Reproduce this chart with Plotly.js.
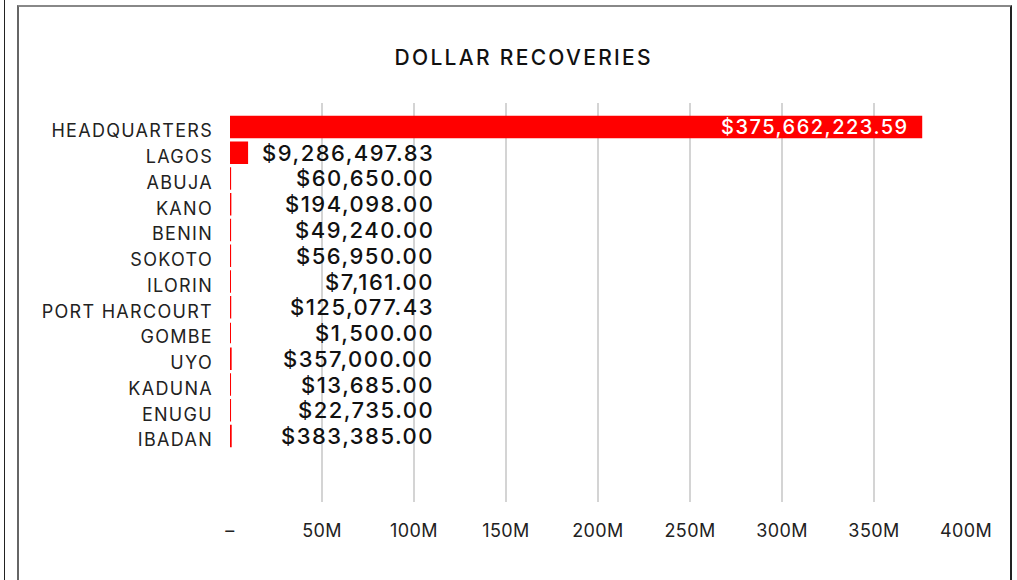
<!DOCTYPE html>
<html>
<head>
<meta charset="utf-8">
<script src="https://cdn.plot.ly/plotly-3.0.1.min.js"></script>
<style>
html,body{margin:0;padding:0;background:#fff;}
#wrap{position:relative;width:1017px;height:580px;overflow:hidden;}
#chart{position:absolute;left:0;top:0;width:1017px;height:580px;}
#frameL{position:absolute;left:4px;top:0;width:1px;height:580px;background:#222;}
#frame{position:absolute;left:17px;top:5px;width:995px;height:600px;border-top:2px solid #888;border-left:2px solid #666;border-right:2px solid #222;box-sizing:border-box;pointer-events:none;}
.ytick text{letter-spacing:1.3px;}
.xtick text{letter-spacing:0.4px;}
.annotation-text{letter-spacing:1.5px;}
.gtitle{letter-spacing:2.3px;}
</style>
</head>
<body>
<div id="wrap">
<div id="chart"></div>
<div id="frameL"></div>
<div id="frame"></div>
</div>
<script>
const categories = ["HEADQUARTERS","LAGOS","ABUJA","KANO","BENIN","SOKOTO","ILORIN","PORT HARCOURT","GOMBE","UYO","KADUNA","ENUGU","IBADAN"];
const recoveries = [375662223.59, 9286497.83, 60650.00, 194098.00, 49240.00, 56950.00, 7161.00, 125077.43, 1500.00, 357000.00, 13685.00, 22735.00, 383385.00];
const tickValues = [0, 50e6, 100e6, 150e6, 200e6, 250e6, 300e6, 350e6, 400e6];
const tickLabels = ["–", "50M", "100M", "150M", "200M", "250M", "300M", "350M", "400M"];

const FONT = "Inter, 'Noto Sans', sans-serif";
function fmt(v){
  return "$" + v.toLocaleString("en-US",{minimumFractionDigits:2,maximumFractionDigits:2});
}

const annotations = categories.map((c,i)=>{
  const inside = i===0;
  return {
    x: inside ? recoveries[i] : 110e6,
    y: c, xref:"x", yref:"y",
    text: fmt(recoveries[i]),
    showarrow:false, xanchor:"right", yanchor:"middle",
    xshift: inside ? -10 : 4, yshift: 0,
    font:{family:FONT, size: inside?20:22, color: inside?"#ffffff":"#111111", weight:500}
  };
});

const trace = {
  type:"bar", orientation:"h",
  x: recoveries, y: categories,
  marker:{color:"#ff0000", line:{color:"#ff0000", width:2}},
  hoverinfo:"none"
};

const layout = {
  width:1017, height:580,
  margin:{l:230, r:51, t:103, b:78},
  paper_bgcolor:"rgba(0,0,0,0)", plot_bgcolor:"rgba(0,0,0,0)",
  title:{text:"DOLLAR RECOVERIES", x:0.515, xanchor:"center", y:0.9, yanchor:"middle",
         font:{family:FONT, size:21, color:"#111", weight:500}},
  bargap:0.2,
  showlegend:false,
  xaxis:{range:[0,400e6], tickvals:tickValues, ticktext:tickLabels,
         showgrid:true, gridcolor:"#d4d4d4", gridwidth:1.5, zeroline:false, showline:false,
         ticks:"", ticklabelstandoff:16, tickfont:{family:FONT, size:18, color:"#222"}},
  yaxis:{type:"category", categoryorder:"array", categoryarray:categories,
         range:[14.56,-0.93], showgrid:false, zeroline:false, showline:false, ticks:"",
         ticklabelstandoff:16, ticklabelshift:-4, tickfont:{family:FONT, size:18, color:"#222"}},
  annotations: annotations
};

Plotly.newPlot("chart",[trace],layout,{displayModeBar:false, staticPlot:true});
</script>
</body>
</html>
